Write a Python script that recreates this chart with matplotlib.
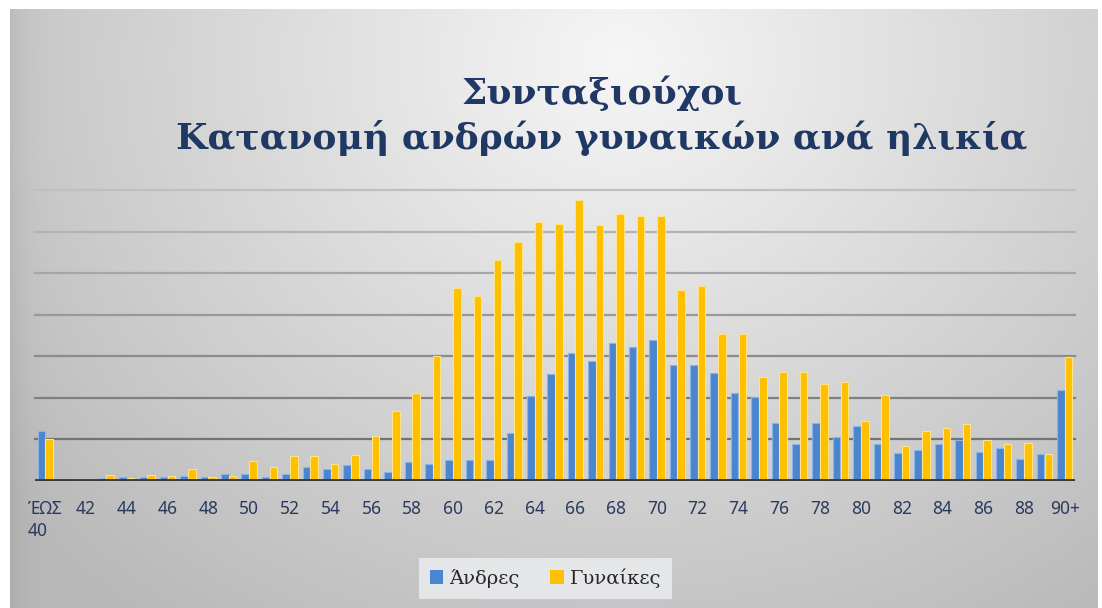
import numpy as np
import matplotlib.pyplot as plt
from matplotlib.patches import Patch

# Ηλικίες (κατηγορίες άξονα x)
AGES = ["ΈΩΣ\n40"] + [str(a) for a in range(41, 90)] + ["90+"]

# Πλήθος συνταξιούχων ανά ηλικία (εκτίμηση από το γράφημα)
ANDRES = [600, 30, 0, 35, 50, 50, 50, 60, 50, 90, 90, 50, 90, 170, 145, 195,
          145, 110, 230, 200, 255, 255, 255, 575, 1020, 1290, 1540, 1440, 1660,
          1610, 1690, 1395, 1395, 1300, 1060, 1010, 700, 450, 700, 525, 660,
          450, 340, 370, 440, 490, 350, 400, 270, 330, 1090]
GYNAIKES = [510, 0, 30, 70, 35, 70, 65, 150, 50, 65, 245, 170, 300, 300, 200,
            310, 545, 840, 1060, 1500, 2325, 2230, 2660, 2870, 3120, 3090, 3385,
            3080, 3215, 3190, 3190, 2300, 2340, 1770, 1770, 1245, 1310, 1310,
            1170, 1190, 725, 1040, 420, 605, 640, 690, 490, 445, 460, 320, 1490]

TITLE = "Συνταξιούχοι\nΚατανομή ανδρών γυναικών ανά ηλικία"
NAVY = "#1F3864"
BLUE = "#4A86D0"
YELLOW = "#FFC000"

W, H = 1102, 608
fig = plt.figure(figsize=(W / 100, H / 100), dpi=100)

# φόντο με διαβάθμιση
bg = fig.add_axes([0, 0, 1, 1], zorder=-10)
bg.set_xlim(0, W)
bg.set_ylim(H, 0)
bg.axis("off")
xx, yy = np.meshgrid(np.arange(10, 1098), np.arange(9, H))
d = np.sqrt(((xx - 620) / 720.0) ** 2 + ((yy - 60) / 620.0) ** 2)
shade = np.clip(246 - 55 * d, 185, 246) / 255.0
shade = shade - 0.05 * np.exp(-(xx - 10) / 14.0)
img = np.dstack([shade, shade, shade])
bg.imshow(img, extent=(10, 1098, H, 9), aspect="auto", interpolation="bilinear")

# κύριος άξονας
ax = fig.add_axes([35 / W, 1 - 481 / H, 1040 / W, (481 - 190) / H])
ax.patch.set_alpha(0)

x = np.arange(len(AGES))
bw = 0.37
ax.bar(x - 0.19, ANDRES, width=bw, color=BLUE, edgecolor="#8DB3E6",
       linewidth=0.8, label="Άνδρες", zorder=3)
ax.bar(x + 0.19, GYNAIKES, width=bw, color=YELLOW, edgecolor="#FFE38A",
       linewidth=0.8, label="Γυναίκες", zorder=3)

ax.set_xlim(-0.5, len(AGES) - 0.5)
ax.set_ylim(0, 3500)
ax.set_yticks(np.arange(0, 3501, 500))
ax.set_yticklabels([])

# οριζόντιες γραμμές πλέγματος: πιο σκούρες προς τα κάτω
levels = ax.get_yticks()[1:]
for i, lv in enumerate(levels):
    g = 0.45 + 0.3 * i / (len(levels) - 1)
    ax.axhline(lv, color=(g, g, g), linewidth=1.6, zorder=1, clip_on=False)
ax.axhline(0, color="#3A3A3A", linewidth=3.5, zorder=4)

for s in ax.spines.values():
    s.set_visible(False)

ax.set_xticks(x[::2])
ax.set_xticklabels(AGES[::2], fontsize=12.5, color="#2B3A5C",
                   family=["Noto Sans", "DejaVu Sans"], linespacing=1.25,
                   verticalalignment="top")
ax.get_xticklabels()[0].set_multialignment("left")
ax.tick_params(axis="x", length=0, pad=14)
ax.tick_params(axis="y", length=0)

fig.text(0.546, 0.81, TITLE, ha="center", va="center", fontsize=26,
         fontweight="bold", color=NAVY, family="DejaVu Serif",
         linespacing=1.3)

handles = [Patch(facecolor=BLUE, label="Άνδρες"),
           Patch(facecolor=YELLOW, label="Γυναίκες")]
leg = fig.legend(handles=handles, loc="center", bbox_to_anchor=(0.495, 0.049),
                 ncol=2, frameon=True, fancybox=False, handlelength=0.7,
                 handleheight=0.7, handletextpad=0.3, columnspacing=1.6,
                 prop={"family": "DejaVu Serif", "size": 14},
                 borderpad=0.55)
leg.get_frame().set_facecolor("#ECEEF1")
leg.get_frame().set_edgecolor("none")
for t in leg.get_texts():
    t.set_color("#262626")

fig.savefig("out.png", dpi=100)
